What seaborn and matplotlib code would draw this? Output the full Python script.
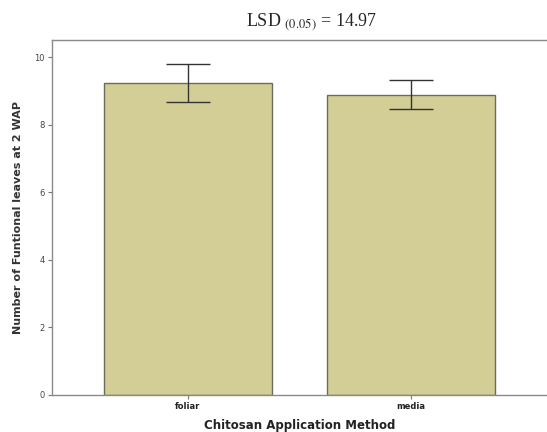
import matplotlib
matplotlib.use("Agg")
import matplotlib.pyplot as plt
import seaborn as sns
import pandas as pd

# Values
methods = ["foliar", "media"]
mean_leaves = [9.22, 8.88]
ci_low = [8.68, 8.46]
ci_high = [9.78, 9.33]
y_ticks = [0, 2, 4, 6, 8, 10]

df = pd.DataFrame({"method": methods, "leaves": mean_leaves})

sns.set_style("white")
fig = plt.figure(figsize=(5.47, 4.32), dpi=100)
ax = fig.add_axes([0.095, 0.086, 0.905, 0.821])

sns.barplot(data=df, x="method", y="leaves", color="#d3ce96", width=0.757,
            edgecolor="#6b6b5a", linewidth=1.0, errorbar=None, saturation=1, ax=ax)

# error bars
yerr = [[m - lo for m, lo in zip(mean_leaves, ci_low)],
        [hi - m for m, hi in zip(mean_leaves, ci_high)]]
ax.errorbar(range(len(methods)), mean_leaves, yerr=yerr, fmt="none",
            ecolor="#333333", elinewidth=1.0, capsize=16, capthick=1.0)

ax.set_xlim(-0.61, 1.61)
ax.set_ylim(0, 10.5)
ax.set_yticks(y_ticks)
ax.set_yticklabels([str(t) for t in y_ticks], fontsize=6, color="#444444")
ax.set_xticks(range(len(methods)))
ax.set_xticklabels(methods, fontsize=6, fontweight="bold", color="#222222")
ax.tick_params(axis="both", direction="out", length=3, width=0.8,
               color="#777777", pad=2, bottom=True, left=True)

for side in ["left", "bottom", "top", "right"]:
    ax.spines[side].set_color("#8a8a8a")
    ax.spines[side].set_linewidth(1.0)
ax.spines["right"].set_visible(False)

ax.set_ylabel("Number of Funtional leaves at 2 WAP", fontsize=8,
              fontweight="bold", color="#333333", labelpad=8)
ax.set_xlabel("Chitosan Application Method", fontsize=8.5,
              fontweight="bold", color="#222222", labelpad=6)

fig.text(0.57, 0.948, r"LSD $_{(0.05)}$ = 14.97", ha="center", va="center",
         fontsize=13, family="Liberation Serif", math_fontfamily="stix")

fig.savefig("out.png", dpi=100)
